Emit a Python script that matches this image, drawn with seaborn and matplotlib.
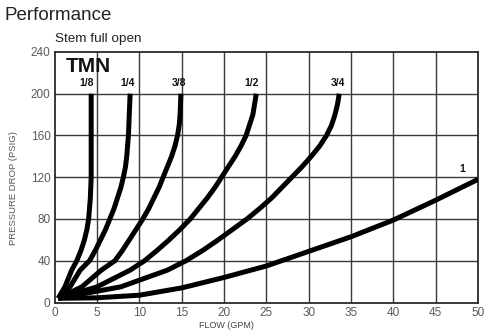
import matplotlib
matplotlib.use("Agg")
import matplotlib.pyplot as plt
import seaborn as sns
import pandas as pd

# Curve data
pressure_levels = [4, 15, 31, 40, 50, 60, 70, 80, 90, 100, 110, 120, 130, 140, 150, 160, 170, 180, 190, 200]
flow_1_8 = [0.4, 1.2, 2.0, 2.6, 3.1, 3.5, 3.8, 4.0, 4.1, 4.2, 4.25, 4.3, 4.3, 4.3, 4.3, 4.3, 4.3, 4.3, 4.3, 4.3]
flow_1_4 = [0.4, 1.8, 3.0, 4.1, 4.8, 5.4, 6.0, 6.5, 7.0, 7.4, 7.8, 8.1, 8.35, 8.5, 8.6, 8.7, 8.75, 8.8, 8.85, 8.9]
flow_3_8 = [0.4, 3.2, 5.5, 7.1, 8.0, 8.8, 9.6, 10.4, 11.1, 11.7, 12.3, 12.8, 13.3, 13.8, 14.2, 14.5, 14.7, 14.8, 14.85, 14.9]
flow_1_2 = [0.4, 5.0, 8.9, 10.6, 12.1, 13.5, 14.8, 16.0, 17.0, 18.0, 18.9, 19.7, 20.5, 21.3, 22.0, 22.6, 23.0, 23.4, 23.6, 23.8]
flow_3_4 = [0.4, 7.8, 13.3, 15.5, 17.5, 19.3, 21.0, 22.7, 24.2, 25.6, 26.8, 28.0, 29.2, 30.3, 31.3, 32.1, 32.7, 33.1, 33.4, 33.6]
flow_1 = [0.4, 5, 10, 15, 20, 25, 30, 35, 40, 45, 50]
pressure_1 = [4, 4.5, 7, 14, 24, 35, 49, 63, 79, 98, 118]

sizes = ["1/8", "1/4", "3/8", "1/2", "3/4", "1"]
x_ticks = [0, 5, 10, 15, 20, 25, 30, 35, 40, 45, 50]
y_ticks = [0, 40, 80, 120, 160, 200, 240]

rows = []
for name, flows in zip(sizes[:5], [flow_1_8, flow_1_4, flow_3_8, flow_1_2, flow_3_4]):
    for i, (f, p) in enumerate(zip(flows, pressure_levels)):
        rows.append({"size": name, "flow": f, "pressure": p, "order": i})
for i, (f, p) in enumerate(zip(flow_1, pressure_1)):
    rows.append({"size": "1", "flow": f, "pressure": p, "order": i})
df = pd.DataFrame(rows)

sns.set_style("white")
plt.rcParams["font.family"] = ["Liberation Sans", "DejaVu Sans"]

fig = plt.figure(figsize=(4.98, 3.35), dpi=100)
ax = fig.add_axes([0.110, 0.097, 0.850, 0.748])

grid_color = "#3a3a3a"
for xv in x_ticks[1:-1]:
    ax.axvline(xv, color=grid_color, lw=1.0, zorder=1)
for yv in y_ticks[1:-1]:
    ax.axhline(yv, color=grid_color, lw=1.0, zorder=1)

sns.lineplot(data=df, x="flow", y="pressure", units="size", estimator=None,
             sort=False, color="black", lw=3.6, ax=ax, zorder=3,
             solid_capstyle="butt", solid_joinstyle="round")

ax.set_xlim(0, 50)
ax.set_ylim(0, 240)
ax.set_xticks(x_ticks)
ax.set_yticks(y_ticks)
ax.tick_params(axis="both", length=0, labelsize=8.5, colors="#5a5a5a", pad=3)
for sp in ax.spines.values():
    sp.set_color("#2a2a2a")
    sp.set_linewidth(1.3)

ax.set_xlabel("FLOW (GPM)", fontsize=6.5, color="#444444", labelpad=0)
ax.xaxis.set_label_coords(0.405, -0.075)
ax.set_ylabel("PRESSURE DROP (PSIG)", fontsize=6.8, color="#555555", labelpad=2)
ax.yaxis.set_label_coords(-0.088, 0.455)

# Curve labels
label_pos = {"1/8": (3.8, 205), "1/4": (8.6, 205), "3/8": (14.7, 205),
             "1/2": (23.2, 205), "3/4": (33.5, 205), "1": (48.1, 123)}
for name in sizes:
    x, y = label_pos[name]
    ax.text(x, y, name, fontsize=7.5, fontweight="bold", ha="center", va="bottom",
            color="#111111", zorder=4)

ax.text(1.3, 226, "TMN", fontsize=15, fontweight="bold", ha="left", va="center",
        color="#111111", zorder=4)

fig.text(0.010, 0.955, "Performance", fontsize=13.5, ha="left", va="center", color="#222222")
fig.text(0.110, 0.884, "Stem full open", fontsize=9.7, ha="left", va="center", color="#222222")

fig.savefig("out.png", dpi=100)
